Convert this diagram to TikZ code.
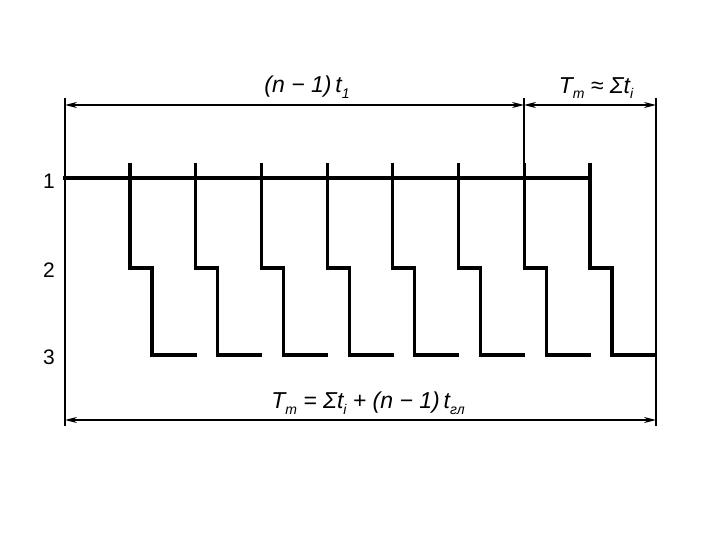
\documentclass[tikz,border=0pt]{standalone}
\usepackage{fontspec}
\setmainfont{Liberation Sans}
\usetikzlibrary{arrows.meta}
\newcommand{\sbs}[1]{\raisebox{-0.45ex}{\fontsize{14}{14}\selectfont #1}}
\tikzset{
  rowline/.style={line width=3.8pt, line cap=rect},
  stepline/.style={line width=3.2pt, line join=miter},
  frameline/.style={line width=1.6pt},
  dimline/.style={line width=1.5pt, {Stealth[length=12pt,width=6pt]}-{Stealth[length=12pt,width=6pt]}},
  lbl/.style={font=\fontsize{23}{23}\selectfont\itshape, inner sep=1pt},
  rowlbl/.style={font=\fontsize{21}{21}\selectfont, inner sep=1pt}
}
\begin{document}
\begin{tikzpicture}[x=1pt,y=-1pt]
\useasboundingbox (0,0) rectangle (720,540);
% frame coordinates
\coordinate (LT) at (65,98);
\coordinate (LB) at (65,426);
\coordinate (RT) at (656,98);
\coordinate (RB) at (656,426);
\coordinate (MT) at (524,98);
\coordinate (M1) at (524,178);
\coordinate (dL) at (65,105);
\coordinate (dM) at (524,105);
\coordinate (dR) at (656,105);
\coordinate (bL) at (65,420);
\coordinate (bR) at (656,420);
\draw[frameline] (LT) -- (LB);
\draw[frameline] (RT) -- (RB);
\draw[frameline] (MT) -- (M1);
% dimension lines
\draw[dimline] (dL) -- (dM);
\draw[dimline] (dM) -- (dR);
\draw[dimline] (bL) -- (bR);
% row labels
\node[rowlbl] (r1) at (49,181) {1};
\node[rowlbl] (r2) at (49,270) {2};
\node[rowlbl] (r3) at (49,357) {3};
% row 1
\coordinate (s1) at (65,178);
\coordinate (e1) at (590,178);
\draw[rowline] (s1) -- (e1);
% steps
\foreach \i in {0,...,7}{
  \pgfmathsetmacro{\xa}{130+65.7*\i}
  \pgfmathsetmacro{\xb}{\xa+22}
  \pgfmathsetmacro{\xc}{ifthenelse(\i==7,656,\xa+66.5)}
  \draw[stepline] (\xa,163) -- (\xa,268) -- (\xb,268) -- (\xb,355) -- (\xc,355);
}
% labels
\node[lbl] (la) at (307,87) {(\textit{n} − 1)\,\textit{t}\sbs{1}};
\node[lbl] (lb) at (596,88) {T\sbs{т} ≈ Σ\textit{t}\sbs{i}};
\node[lbl] (lc) at (368,403) {T\sbs{т} = Σ\textit{t}\sbs{i} + (\textit{n} − 1)\,\textit{t}\sbs{гл}};
\end{tikzpicture}
\end{document}
